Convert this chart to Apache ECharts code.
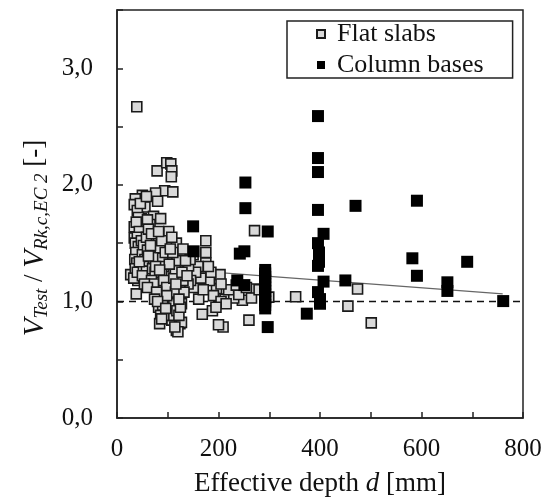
<!DOCTYPE html>
<html>
<head>
<meta charset="utf-8">
<script src="https://cdn.jsdelivr.net/npm/echarts@6/dist/echarts.min.js"></script>
<style>html,body{margin:0;padding:0;background:#fff}#c{width:547px;height:502px}</style>
</head>
<body>
<div id="c"></div>
<script>
// Flat slabs: [effective depth d (mm), V_Test / V_Rk,c,EC2]
const flatSlabs = [
[39,2.67],[271,1.607],[352,1.04],[455,0.96],[474,1.107],[501,0.816],[260,0.84],[247,1.01],[270,1.107],[299,1.037],
[209,0.78],[200,0.80],[188,0.92],[168,0.89],[213,1.02],[196,1.11],[203,1.23],[182,1.18],[175,1.52],[175,1.42],
[175,1.33],[161,1.02],[151,1.12],[265,1.03],[280,1.10],[230,1.03],[220,1.10],[205,1.15],[190,1.05],[185,1.25],
[160,1.30],[165,1.20],[155,1.25],[145,1.18],[150,1.40],[140,1.15],[135,1.28],[205,1.00],[215,0.98],[195,0.95],
[180,1.30],[170,1.10],[240,1.06],[255,1.12],[235,1.14],
[79,2.12],[98,2.19],[106,2.18],[108,2.12],[107,2.07],[94,1.95],[110,1.94],[76,1.93],[80,1.86],[50,1.91],
[36,1.88],[34,1.83],[55,1.81],[48,1.71],[72,1.73],[65,1.66],[55,1.60],[34,1.64],[34,1.545],[102,1.60],
[79,1.50],[100,1.49],[117,1.50],[62,1.50],[45,1.45],[45,1.39],[65,1.40],[89,1.42],[126,1.39],[100,1.35],
[82,1.33],[65,1.33],[45,1.29],[27,1.23],[41,1.18],[38,1.065],[65,1.23],[84,1.20],[106,1.19],[124,1.23],
[96,1.26],[120,1.305],[141,1.305],[144,1.36],[86,1.11],[91,1.05],[108,1.11],[124,1.14],[124,1.05],[127,0.98],
[82,0.95],[86,0.88],[84,0.81],[106,0.92],[108,0.84],[124,0.81],[117,0.75],[127,0.82],[120,0.74],
[40,1.78],[42,1.72],[38,1.68],[44,1.60],[40,1.55],[36,1.50],[42,1.47],[37,1.42],[35,1.36],[39,1.33],
[36,1.28],[33,1.20],[40,1.25],[48,1.52],[52,1.48],[50,1.40],[55,1.36],[52,1.30],[58,1.26],[50,1.22],
[60,1.44],[58,1.55],[60,1.70],[62,1.62],[68,1.58],[70,1.47],[72,1.37],[70,1.28],[75,1.25],[68,1.18],
[72,1.15],[78,1.42],[80,1.38],[85,1.46],[88,1.52],[90,1.37],[92,1.30],[95,1.42],[88,1.25],[92,1.18],
[98,1.12],[100,1.00],[95,1.02],[90,0.97],[102,0.88],[112,0.98],[115,1.08],[112,1.20],[115,1.28],[118,1.35],
[110,1.42],[105,1.45],[108,1.55],[98,1.05],[112,0.88],[118,0.92],[122,0.88],[130,1.18],[132,1.08],[128,1.25],
[135,1.35],[138,1.22],[130,1.45],[46,1.84],[58,1.90],[44,1.34],[62,1.39],[76,1.30],[82,1.60],[86,1.71],
[66,1.48],[54,1.15],[60,1.12],[78,1.08],[74,1.02],[80,1.00],[96,0.94],[88,0.85],[114,0.78],[125,0.95],
[103,1.32],[84,1.27],[116,1.15],[122,1.02]
];
// Column bases
const columnBases = [
[150,1.644],[151,1.43],[253,2.02],[253,1.80],[251,1.43],[242,1.41],[297,1.60],[237,1.18],[251,1.14],
[292,1.27],[292,1.24],[292,1.21],[292,1.18],[292,1.15],[292,1.12],[292,1.09],[292,1.06],[292,1.03],[292,1.00],[292,0.97],[292,0.94],
[297,0.78],[396,2.59],[396,2.23],[396,2.11],[396,1.785],[407,1.58],[396,1.50],[398,1.42],[398,1.38],[398,1.34],[396,1.305],
[407,1.17],[396,1.08],[400,0.98],[400,1.02],[374,0.895],[450,1.18],[470,1.82],[591,1.864],[582,1.37],[591,1.22],
[651,1.164],[651,1.09],[690,1.34],[761,1.003]
];
// Trend line end points and reference line
const trendLine = [[130,1.27],[760,1.065]];
const refLine = [[0,1.0],[800,1.0]];
const xTicks = [0,200,400,600,800];
const yTicks = [0,1,2,3];

const FONT = 'Liberation Serif';
const chart = echarts.init(document.getElementById('c'), null, {renderer:'canvas'});
chart.setOption({
  animation:false,
  backgroundColor:'#fff',
  grid:{left:117,right:24,top:10,bottom:80,show:true,borderColor:'#222',borderWidth:1.5,backgroundColor:'transparent'},
  xAxis:{type:'value',min:0,max:800,interval:100,
    axisLine:{lineStyle:{color:'#222',width:1.5}},
    axisTick:{inside:true,length:6,lineStyle:{color:'#222',width:1.5}},
    splitLine:{show:false},
    axisLabel:{margin:19,fontFamily:FONT,fontSize:25,color:'#111',
      formatter:v=>xTicks.indexOf(v)>=0?String(v):''},
    name:'{n|Effective depth }{i|d}{n| [mm]}',nameLocation:'middle',nameGap:52,
    nameTextStyle:{rich:{n:{fontFamily:FONT,fontSize:27,color:'#111'},i:{fontFamily:FONT,fontSize:27,fontStyle:'italic',color:'#111'}}}
  },
  yAxis:{type:'value',min:0,max:3.5,interval:0.5,
    axisLine:{lineStyle:{color:'#222',width:1.5}},
    axisTick:{inside:true,length:6,lineStyle:{color:'#222',width:1.5}},
    splitLine:{show:false},
    axisLabel:{margin:24,fontFamily:FONT,fontSize:25,color:'#111',
      formatter:v=>yTicks.indexOf(v)>=0?v.toFixed(1).replace('.',','):''}
  },
  legend:{orient:'vertical',left:287,top:21,padding:[0,29,0,29],itemGap:5,
    itemWidth:8,itemHeight:8,borderColor:'#222',borderWidth:1.5,backgroundColor:'#fff',
    textStyle:{fontFamily:FONT,fontSize:26,lineHeight:24,color:'#111',padding:[0,0,0,7]},
    data:[{name:'Flat slabs',icon:'rect'},{name:'Column bases',icon:'rect'}]
  },
  graphic:[{type:'text',x:35,y:238,rotation:Math.PI/2,z:100,
    style:{text:'{v|V}{s|Test}{n| / }{v|V}{s|Rk,c,EC 2}{n| [-]}',align:'center',verticalAlign:'middle',
      rich:{
        v:{fontFamily:FONT,fontSize:29,fontStyle:'italic',fill:'#111',lineHeight:32,verticalAlign:'middle'},
        s:{fontFamily:FONT,fontSize:19,fontStyle:'italic',fill:'#111',lineHeight:18,verticalAlign:'bottom',padding:[8,0,0,0]},
        n:{fontFamily:FONT,fontSize:27,fill:'#111',lineHeight:32,verticalAlign:'middle'}
      }}}],
  series:[
    {type:'line',data:refLine,symbol:'none',silent:true,z:1,
      lineStyle:{color:'#111',width:1.5,type:[7,5]}},
    {type:'line',data:trendLine,symbol:'none',silent:true,z:1,
      lineStyle:{color:'#666',width:1.2}},
    {name:'Flat slabs',type:'scatter',data:flatSlabs,symbol:'rect',symbolSize:10,z:2,
      itemStyle:{color:'#d9d9d9',borderColor:'#1a1a1a',borderWidth:1.6,opacity:1}},
    {name:'Column bases',type:'scatter',data:columnBases,symbol:'rect',symbolSize:12,z:3,
      itemStyle:{color:'#000',borderColor:'#000',borderWidth:0,opacity:1}}
  ]
});
</script>
</body>
</html>
